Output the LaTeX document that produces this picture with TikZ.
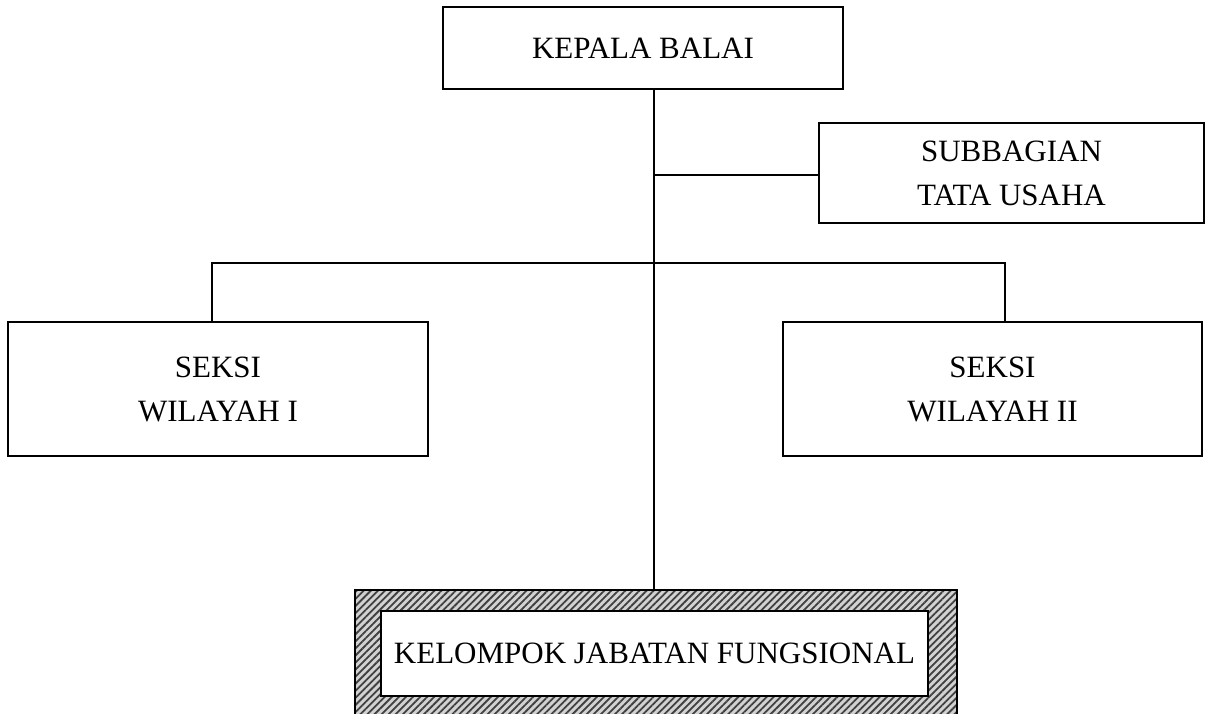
\documentclass[tikz,border=0pt]{standalone}
\usepackage{fontspec}
\setmainfont{Liberation Serif}
\usetikzlibrary{patterns.meta}

\begin{document}
\begin{tikzpicture}[
    x=1pt, y=-1pt,
    orgbox/.style={draw, line width=2.2pt, align=center, inner sep=0pt,
                   font=\fontsize{31}{44}\selectfont},
    hatchfill/.style={pattern={Lines[angle=45, distance=5pt, line width=1.8pt]},
                   pattern color=black!75},
    link/.style={line width=2.2pt}
]
\useasboundingbox (0,0) rectangle (1205,714);

% bingkai arsir
\fill[gray!35] (355,590) rectangle (957,720);
\fill[hatchfill] (355,590) rectangle (957,720);
\draw[line width=2.2pt] (355,720) -- (355,590) -- (957,590) -- (957,720);

\node[orgbox, minimum width=400, minimum height=82] (kepala) at (643,48) {KEPALA BALAI};
\node[orgbox, minimum width=385, minimum height=100] (subbag) at (1011.5,173) {SUBBAGIAN\\TATA USAHA};
\node[orgbox, minimum width=420, minimum height=134] (seksi1) at (218,389) {SEKSI\\WILAYAH I};
\node[orgbox, minimum width=419, minimum height=134] (seksi2) at (992.5,389) {SEKSI\\WILAYAH II};
\node[orgbox, fill=white, minimum width=547, minimum height=85] (jabfung) at (654.5,653.5) {KELOMPOK JABATAN FUNGSIONAL};

\coordinate (top) at (654,89);
\coordinate (bottom) at (654,590);
\coordinate (tu) at (654,175);
\coordinate (cross) at (654,263);
\coordinate (left) at (212,263);
\coordinate (right) at (1005,263);

\draw[link] (top) -- (bottom);
\draw[link] (tu) -- (tu -| subbag.west);
\draw[link] (seksi1.north -| left) -- (left) -- (right) -- (seksi2.north -| right);
\end{tikzpicture}
\end{document}
